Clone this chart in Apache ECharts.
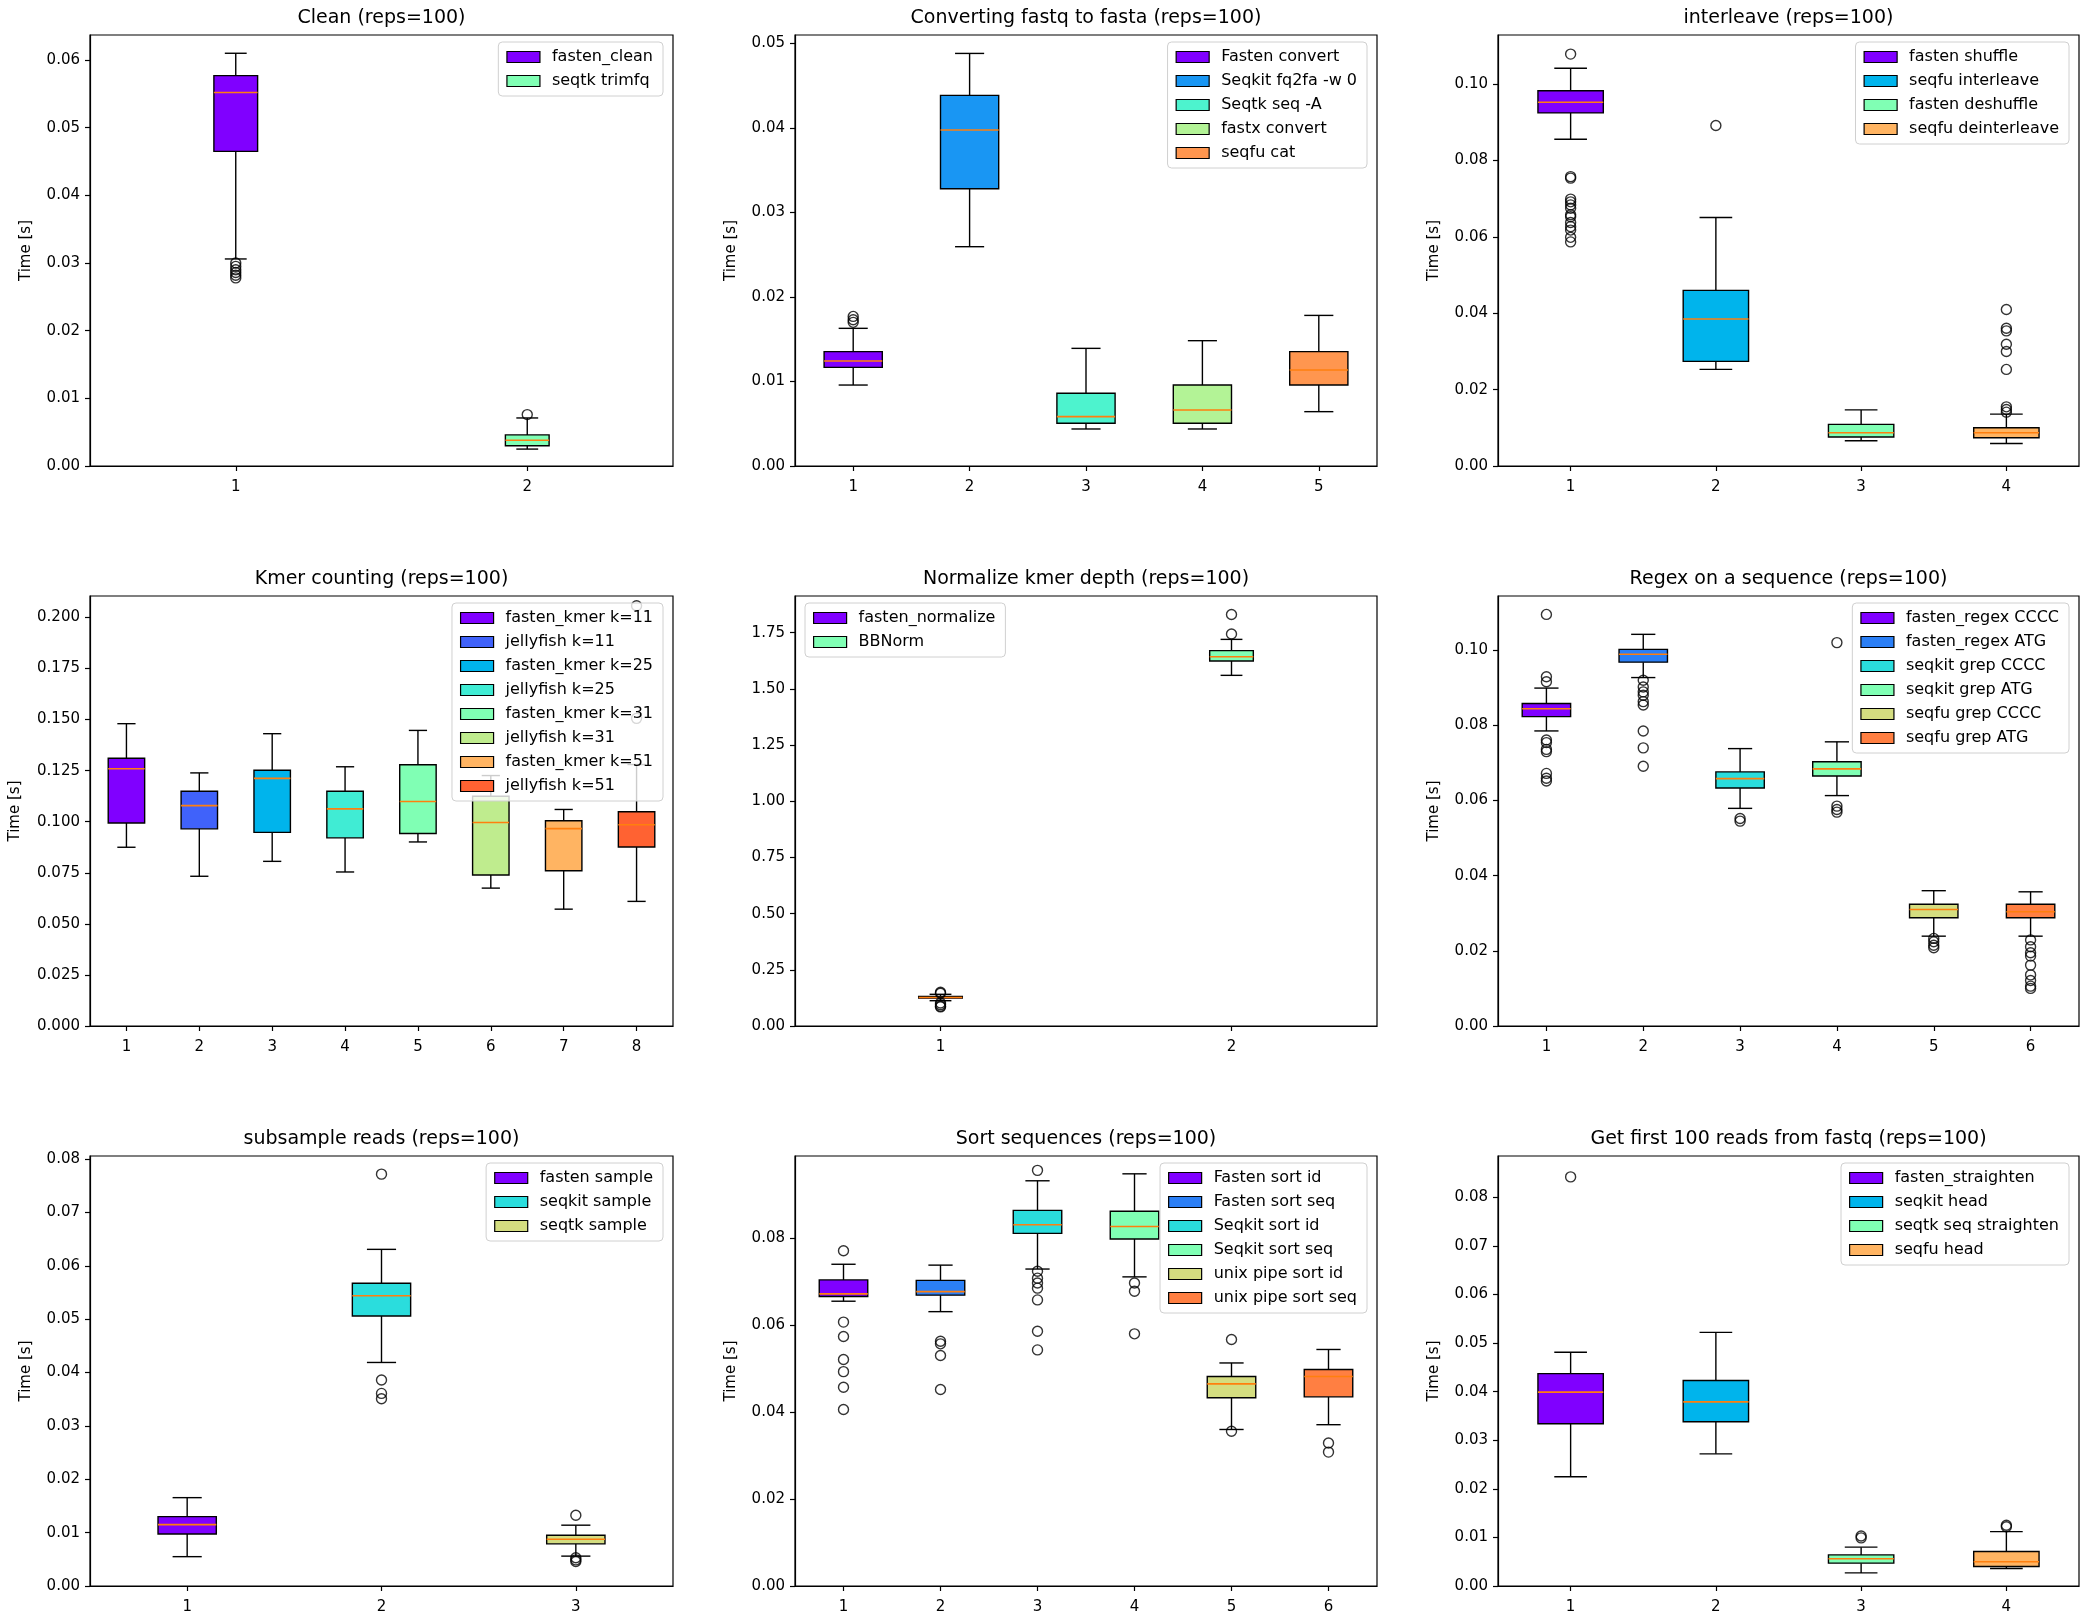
<!DOCTYPE html>
<html>
<head>
<meta charset="utf-8">
<script src="https://cdn.jsdelivr.net/npm/echarts@6/dist/echarts.min.js"></script>
<style>html,body{margin:0;padding:0;background:#fff}#c{width:2085px;height:1619px}</style>
</head>
<body>
<div id="c"></div>
<script>
// ================= DATA =================
// stats rows: [lower whisker, Q1, median, Q3, upper whisker]

const cleanTitle = 'Clean (reps=100)';
const cleanNames = ['fasten_clean', 'seqtk trimfq'];
const cleanStats = [[0.0306, 0.0465, 0.0552, 0.0577, 0.0610], [0.0025, 0.0030, 0.0038, 0.0046, 0.0071]];
const cleanFliers = [[0.0300, 0.0295, 0.0290, 0.0286, 0.0282, 0.0278], [0.0076]];
const cleanTicks = [0, 0.01, 0.02, 0.03, 0.04, 0.05, 0.06];
const cleanYMax = 0.0637;

const convTitle = 'Converting fastq to fasta (reps=100)';
const convNames = ['Fasten convert', 'Seqkit fq2fa -w 0', 'Seqtk seq -A', 'fastx convert', 'seqfu cat'];
const convStats = [[0.00958, 0.01167, 0.01242, 0.01353, 0.01629], [0.02595, 0.03281, 0.03975, 0.04385, 0.04882],
  [0.00438, 0.00505, 0.00584, 0.0086, 0.01392], [0.00438, 0.00505, 0.00662, 0.00958, 0.01483],
  [0.00643, 0.00958, 0.01136, 0.01353, 0.01782]];
const convFliers = [[0.0177, 0.0173, 0.0170], [], [], [], []];
const convTicks = [0, 0.01, 0.02, 0.03, 0.04, 0.05];
const convYMax = 0.0510;

const interTitle = 'interleave (reps=100)';
const interNames = ['fasten shuffle', 'seqfu interleave', 'fasten deshuffle', 'seqfu deinterleave'];
const interStats = [[0.0856, 0.0925, 0.0953, 0.0983, 0.1042], [0.0253, 0.0274, 0.0385, 0.0460, 0.0651],
  [0.0066, 0.0076, 0.0087, 0.0109, 0.0147], [0.0059, 0.0074, 0.0087, 0.0100, 0.0136]];
const interFliers = [[0.1079, 0.0758, 0.0754, 0.0699, 0.0692, 0.0684, 0.0675, 0.0658, 0.0653, 0.0638, 0.0627, 0.0618, 0.0599, 0.0587],
  [0.0892], [], [0.0410, 0.0361, 0.0354, 0.0319, 0.0300, 0.0253, 0.0155, 0.0148, 0.0141]];
const interTicks = [0, 0.02, 0.04, 0.06, 0.08, 0.10];
const interYMax = 0.1129;

const kmerTitle = 'Kmer counting (reps=100)';
const kmerNames = ['fasten_kmer k=11', 'jellyfish k=11', 'fasten_kmer k=25', 'jellyfish k=25',
  'fasten_kmer k=31', 'jellyfish k=31', 'fasten_kmer k=51', 'jellyfish k=51'];
const kmerStats = [[0.0875, 0.0994, 0.1259, 0.1311, 0.1480], [0.0733, 0.0965, 0.1079, 0.1149, 0.1239],
  [0.0806, 0.0948, 0.1212, 0.1252, 0.1431], [0.0754, 0.0921, 0.1063, 0.1149, 0.1269],
  [0.0901, 0.0942, 0.1099, 0.1279, 0.1447], [0.0675, 0.0739, 0.0996, 0.1125, 0.1226],
  [0.0572, 0.0760, 0.0966, 0.1005, 0.1060], [0.0610, 0.0876, 0.0985, 0.1049, 0.1280]];
const kmerFliers = [[], [], [], [], [], [], [], [0.2057, 0.1506]];
const kmerTicks = [0, 0.025, 0.05, 0.075, 0.1, 0.125, 0.15, 0.175, 0.2];
const kmerYMax = 0.2105;

const normTitle = 'Normalize kmer depth (reps=100)';
const normNames = ['fasten_normalize', 'BBNorm'];
const normStats = [[0.1125, 0.124, 0.127, 0.131, 0.141], [1.560, 1.624, 1.643, 1.670, 1.720]];
const normFliers = [[0.150, 0.146, 0.102, 0.095, 0.088, 0.085], [1.831, 1.744]];
const normTicks = [0, 0.25, 0.5, 0.75, 1.0, 1.25, 1.5, 1.75];
const normYMax = 1.913;

const regexTitle = 'Regex on a sequence (reps=100)';
const regexNames = ['fasten_regex CCCC', 'fasten_regex ATG', 'seqkit grep CCCC', 'seqkit grep ATG', 'seqfu grep CCCC', 'seqfu grep ATG'];
const regexStats = [[0.0785, 0.0823, 0.0844, 0.0858, 0.0899], [0.0927, 0.0968, 0.0989, 0.1002, 0.1042],
  [0.0579, 0.0633, 0.0658, 0.0676, 0.0738], [0.0613, 0.0665, 0.0684, 0.0703, 0.0756],
  [0.0239, 0.0288, 0.0310, 0.0324, 0.0360], [0.0239, 0.0288, 0.0304, 0.0324, 0.0357]];
const regexFliers = [[0.1095, 0.0929, 0.0916, 0.0761, 0.0754, 0.0736, 0.0730, 0.0672, 0.0659, 0.0652],
  [0.0920, 0.0902, 0.0889, 0.0880, 0.0863, 0.0854, 0.0785, 0.0740, 0.0691],
  [0.0552, 0.0545], [0.1020, 0.0585, 0.0576, 0.0569], [0.0233, 0.0224, 0.0215, 0.0208],
  [0.0229, 0.0211, 0.0195, 0.0186, 0.0162, 0.0136, 0.0121, 0.0106, 0.0100]];
const regexTicks = [0, 0.02, 0.04, 0.06, 0.08, 0.10];
const regexYMax = 0.1144;

const subTitle = 'subsample reads (reps=100)';
const subNames = ['fasten sample', 'seqkit sample', 'seqtk sample'];
const subStats = [[0.0055, 0.00975, 0.0115, 0.0130, 0.01656], [0.0419, 0.0506, 0.0544, 0.05675, 0.0631],
  [0.0056, 0.0079, 0.00875, 0.0095, 0.0114]];
const subFliers = [[], [0.0772, 0.0386, 0.0361, 0.0351], [0.01325, 0.0053, 0.0049, 0.0046]];
const subTicks = [0, 0.01, 0.02, 0.03, 0.04, 0.05, 0.06, 0.07, 0.08];
const subYMax = 0.0806;

const sortTitle = 'Sort sequences (reps=100)';
const sortNames = ['Fasten sort id', 'Fasten sort seq', 'Seqkit sort id', 'Seqkit sort seq', 'unix pipe sort id', 'unix pipe sort seq'];
const sortStats = [[0.0655, 0.0666, 0.0672, 0.0704, 0.0740], [0.0631, 0.0669, 0.0677, 0.0703, 0.0738],
  [0.0729, 0.0811, 0.0831, 0.0864, 0.0932], [0.0711, 0.0798, 0.0827, 0.0862, 0.0948],
  [0.0360, 0.0433, 0.0465, 0.0482, 0.0513], [0.0371, 0.0435, 0.0482, 0.0498, 0.0544]];
const sortFliers = [[0.0771, 0.0607, 0.0574, 0.0521, 0.0493, 0.0457, 0.0406], [0.0563, 0.0557, 0.0530, 0.0452],
  [0.0956, 0.0724, 0.0708, 0.0697, 0.0685, 0.0658, 0.0586, 0.0543], [0.0697, 0.0678, 0.0580],
  [0.0567, 0.0356], [0.0329, 0.0308]];
const sortTicks = [0, 0.02, 0.04, 0.06, 0.08];
const sortYMax = 0.0989;

const headTitle = 'Get first 100 reads from fastq (reps=100)';
const headNames = ['fasten_straighten', 'seqkit head', 'seqtk seq straighten', 'seqfu head'];
const headStats = [[0.0225, 0.0334, 0.0399, 0.0437, 0.0481], [0.0272, 0.0338, 0.0379, 0.0423, 0.0522],
  [0.0027, 0.0047, 0.0056, 0.0064, 0.0080], [0.0036, 0.0040, 0.0050, 0.0071, 0.0112]];
const headFliers = [[0.0842], [], [0.0103, 0.0099], [0.0125, 0.0122]];
const headTicks = [0, 0.01, 0.02, 0.03, 0.04, 0.05, 0.06, 0.07, 0.08];
const headYMax = 0.0885;

const yLabel = 'Time [s]';

// ================= LAYOUT / STYLE =================
const FONT = '"DejaVu Sans", "Liberation Sans", sans-serif';
const W = 2085;
const colLeft = [90, 795, 1498], colRight = [673, 1377, 2079];
const rowTop = [35, 596, 1156], rowBottom = [466, 1026, 1586];

const panels = [
  { title: cleanTitle, names: cleanNames, stats: cleanStats, fliers: cleanFliers, ticks: cleanTicks, yMax: cleanYMax, ylab: yLabel },
  { title: convTitle, names: convNames, stats: convStats, fliers: convFliers, ticks: convTicks, yMax: convYMax, ylab: yLabel },
  { title: interTitle, names: interNames, stats: interStats, fliers: interFliers, ticks: interTicks, yMax: interYMax, ylab: yLabel },
  { title: kmerTitle, names: kmerNames, stats: kmerStats, fliers: kmerFliers, ticks: kmerTicks, yMax: kmerYMax, ylab: yLabel },
  { title: normTitle, names: normNames, stats: normStats, fliers: normFliers, ticks: normTicks, yMax: normYMax, ylab: '' },
  { title: regexTitle, names: regexNames, stats: regexStats, fliers: regexFliers, ticks: regexTicks, yMax: regexYMax, ylab: yLabel },
  { title: subTitle, names: subNames, stats: subStats, fliers: subFliers, ticks: subTicks, yMax: subYMax, ylab: yLabel },
  { title: sortTitle, names: sortNames, stats: sortStats, fliers: sortFliers, ticks: sortTicks, yMax: sortYMax, ylab: yLabel },
  { title: headTitle, names: headNames, stats: headStats, fliers: headFliers, ticks: headTicks, yMax: headYMax, ylab: yLabel }
];
// box width (in category units, matplotlib default), tick decimals, name gap, legend side
const layouts = [
  { bw: 0.15, dec: 2, gap: 56, side: 'right' },
  { bw: 0.5, dec: 2, gap: 56, side: 'right' },
  { bw: 0.45, dec: 2, gap: 56, side: 'right' },
  { bw: 0.5, dec: 3, gap: 67, side: 'right' },
  { bw: 0.15, dec: 2, gap: 56, side: 'left' },
  { bw: 0.5, dec: 2, gap: 56, side: 'right' },
  { bw: 0.3, dec: 2, gap: 56, side: 'right' },
  { bw: 0.5, dec: 2, gap: 56, side: 'right' },
  { bw: 0.45, dec: 2, gap: 56, side: 'right' }
];

function rainbow(x) {
  const cl = v => Math.max(0, Math.min(1, v));
  const r = cl(Math.abs(2 * x - 0.5)), g = cl(Math.sin(Math.PI * x)), b = cl(Math.cos(Math.PI * x / 2));
  return 'rgb(' + Math.round(r * 255) + ',' + Math.round(g * 255) + ',' + Math.round(b * 255) + ')';
}

const LW = 1.4;
function boxRender(color, widthFrac) {
  return function (params, api) {
    const x = api.value(0);
    const lo = api.coord([x, api.value(1)]);
    const q1 = api.coord([x, api.value(2)]);
    const md = api.coord([x, api.value(3)]);
    const q3 = api.coord([x, api.value(4)]);
    const hi = api.coord([x, api.value(5)]);
    const band = api.size([1, 0])[0];
    const bw = band * widthFrac, cw = bw / 2, cx = md[0];
    const ls = { stroke: '#000', lineWidth: LW };
    return {
      type: 'group',
      children: [
        { type: 'line', shape: { x1: cx, y1: hi[1], x2: cx, y2: q3[1] }, style: ls },
        { type: 'line', shape: { x1: cx, y1: q1[1], x2: cx, y2: lo[1] }, style: ls },
        { type: 'line', shape: { x1: cx - cw / 2, y1: hi[1], x2: cx + cw / 2, y2: hi[1] }, style: ls },
        { type: 'line', shape: { x1: cx - cw / 2, y1: lo[1], x2: cx + cw / 2, y2: lo[1] }, style: ls },
        { type: 'rect', shape: { x: cx - bw / 2, y: q3[1], width: bw, height: q1[1] - q3[1] }, style: { fill: color, stroke: '#000', lineWidth: LW } },
        { type: 'line', shape: { x1: cx - bw / 2, y1: md[1], x2: cx + bw / 2, y2: md[1] }, style: { stroke: '#ff7f0e', lineWidth: 1.6 } }
      ]
    };
  };
}

const option = {
  animation: false,
  backgroundColor: '#ffffff',
  textStyle: { fontFamily: FONT },
  title: [], grid: [], xAxis: [], yAxis: [], legend: [], series: []
};

panels.forEach(function (p, i) {
  const L = layouts[i];
  const r = Math.floor(i / 3), c = i % 3;
  const left = colLeft[c], top = rowTop[r];
  const width = colRight[c] - left, height = rowBottom[r] - top;
  const n = p.names.length;

  option.grid.push({ left: left, top: top, width: width, height: height, show: true, borderColor: '#000', borderWidth: 1.2,
    backgroundColor: 'rgba(0,0,0,0)', containLabel: false, outerBoundsMode: 'none' });

  option.title.push({ text: p.title, left: left + width / 2, top: top - 26, textAlign: 'center', padding: 0,
    textStyle: { fontSize: 19, fontWeight: 'normal', color: '#000', fontFamily: FONT } });

  option.xAxis.push({
    type: 'category', gridIndex: i, data: p.names.map(function (_, k) { return String(k + 1); }), boundaryGap: true,
    axisLine: { show: true, lineStyle: { color: '#000', width: 1.2 } },
    axisTick: { show: true, alignWithLabel: true, length: 5, lineStyle: { color: '#000', width: 1.2 } },
    axisLabel: { color: '#000', fontSize: 15, margin: 14, fontFamily: FONT },
    splitLine: { show: false }
  });

  option.yAxis.push({
    type: 'value', gridIndex: i, min: 0, max: p.yMax,
    name: p.ylab, nameLocation: 'middle', nameRotate: 90, nameGap: L.gap, nameMoveOverlap: false,
    nameTextStyle: { fontSize: 15, color: '#000', fontFamily: FONT },
    axisLine: { show: true, onZero: false, lineStyle: { color: '#000', width: 1.2 } },
    axisTick: { show: true, length: 5, customValues: p.ticks, lineStyle: { color: '#000', width: 1.2 } },
    axisLabel: { customValues: p.ticks, color: '#000', fontSize: 15, margin: 10, fontFamily: FONT,
      formatter: (function (d) { return function (v) { return Number(v).toFixed(d); }; })(L.dec) },
    splitLine: { show: false }
  });

  const lg = {
    orient: 'vertical', top: top + 7, data: p.names.slice(), selectedMode: false,
    icon: 'rect', itemWidth: 33, itemHeight: 11, itemGap: 8,
    padding: [7, 10, 7, 8],
    backgroundColor: 'rgba(255,255,255,0.8)', borderColor: '#d0d0d0', borderWidth: 1, borderRadius: 4,
    textStyle: { fontSize: 16, color: '#000', fontFamily: FONT, padding: [0, 0, 0, 7] },
    itemStyle: { borderColor: '#000', borderWidth: 1.2 }
  };
  if (L.side === 'right') lg.right = W - (colRight[c] - 10); else lg.left = left + 10;
  option.legend.push(lg);

  p.names.forEach(function (name, k) {
    const col = rainbow(k / n);
    option.series.push({
      type: 'custom', name: name, xAxisIndex: i, yAxisIndex: i, z: 2,
      itemStyle: { color: col, borderColor: '#000', borderWidth: 1.2 },
      encode: { x: 0, y: [1, 2, 3, 4, 5] },
      data: [[k].concat(p.stats[k])],
      renderItem: boxRender(col, L.bw)
    });
  });

  const fl = [];
  p.fliers.forEach(function (arr, k) { arr.forEach(function (v) { fl.push([k, v]); }); });
  option.series.push({
    type: 'scatter', name: '__fliers' + i, xAxisIndex: i, yAxisIndex: i, z: 2,
    symbol: 'circle', symbolSize: 10, silent: true,
    itemStyle: { color: 'rgba(255,255,255,0)', borderColor: '#000', borderWidth: 1.4 },
    data: fl
  });
});

const chart = echarts.init(document.getElementById('c'), null, { renderer: 'canvas', width: 2085, height: 1619 });
chart.setOption(option);
</script>
</body>
</html>
